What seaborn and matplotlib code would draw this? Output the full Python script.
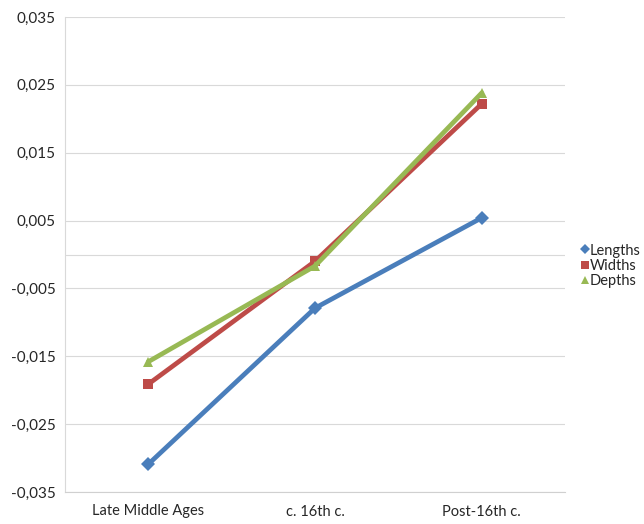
import matplotlib
matplotlib.use("Agg")
import matplotlib.pyplot as plt
import pandas as pd
import seaborn as sns
from matplotlib.lines import Line2D
from matplotlib.ticker import FuncFormatter

periods = ["Late Middle Ages", "c. 16th c.", "Post-16th c."]
lengths = [-0.0309, -0.0079, 0.0054]
widths = [-0.0191, -0.0010, 0.0222]
depths = [-0.0158, -0.0017, 0.0238]

series_names = ["Lengths", "Widths", "Depths"]
colors = {"Lengths": "#4A7EBB", "Widths": "#BE4B48", "Depths": "#98B954"}
markers = {"Lengths": "D", "Widths": "s", "Depths": "^"}

df = pd.DataFrame({
    "period": periods * 3,
    "value": lengths + widths + depths,
    "series": [s for s in series_names for _ in periods],
})

sns.set_style("white")
plt.rcParams["font.family"] = ["Lato", "DejaVu Sans"]

fig = plt.figure(figsize=(6.44, 5.24), dpi=100)
ax = fig.add_axes([65 / 644, 32 / 524, 500 / 644, 475 / 524])

sns.lineplot(
    data=df, x="period", y="value", hue="series", style="series",
    palette=colors, markers=markers, dashes=False, linewidth=3.4,
    markersize=7, markeredgewidth=0, sort=False, legend=False, ax=ax,
)

ax.set_xlim(-0.5, 2.5)
ax.set_ylim(-0.035, 0.035)
ax.set_yticks([-0.035, -0.025, -0.015, -0.005, 0.005, 0.015, 0.025, 0.035])
ax.yaxis.set_major_formatter(FuncFormatter(lambda v, p: f"{v:.3f}".replace(".", ",")))
for yv in [-0.035, -0.025, -0.015, -0.005, 0.0, 0.005, 0.015, 0.025, 0.035]:
    ax.axhline(yv, color="#d9d9d9", linewidth=0.8, zorder=0)
ax.set_xlabel("")
ax.set_ylabel("")
ax.tick_params(axis="both", length=0, colors="#262626")
ax.tick_params(axis="y", labelsize=11, pad=7)
ax.tick_params(axis="x", labelsize=10.5, pad=9)
for side in ["top", "right"]:
    ax.spines[side].set_visible(False)
ax.spines["left"].set_color("#d9d9d9")
ax.spines["bottom"].set_color("#d0d0d0")

handles = [
    Line2D([], [], linestyle="none", marker=markers[s], color=colors[s],
           markersize=5 if s == "Lengths" else 6, markeredgewidth=0)
    for s in series_names
]
fig.legend(handles, series_names, loc="center left", bbox_to_anchor=(576 / 644, 1 - 266 / 524),
           frameon=False, fontsize=10.5, handlelength=0.5, handletextpad=0.05,
           labelspacing=0.1, borderaxespad=0)

fig.savefig("out.png", dpi=100)
